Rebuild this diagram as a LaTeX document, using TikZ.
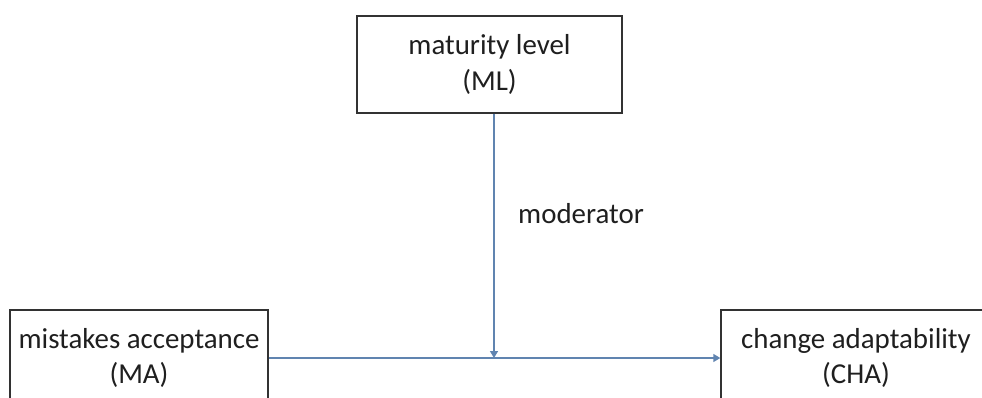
\documentclass[tikz,border=0pt]{standalone}
\usepackage{fontspec}
\setmainfont{Carlito}
\usetikzlibrary{arrows.meta}
\definecolor{linkblue}{RGB}{96,132,176}
\definecolor{boxgrey}{RGB}{50,50,50}
\tikzset{
  box/.style={draw=boxgrey, line width=1.4bp, fill=white, minimum width=258bp, minimum height=96bp,
    align=center, inner sep=0pt, text=black!88, font=\fontsize{29}{36}\selectfont},
  link/.style={draw=linkblue, line width=1.4bp, -{Triangle[width=8bp,length=7bp]}},
  lbl/.style={text=black!88, font=\fontsize{29}{36}\selectfont, inner sep=0pt}
}
\begin{document}
\begin{tikzpicture}[x=1bp,y=-1bp]
\useasboundingbox (0,0) rectangle (982,397);
\clip (0,0) rectangle (982,397);
\fill[white] (0,0) rectangle (982,397);
\node[box, minimum width=265bp, minimum height=97bp] (ml) at (489.5,64.5) {maturity level\\(ML)};
\node[box] (ma) at (139,358) {mistakes acceptance\\(MA)};
\node[box, minimum width=270bp] (cha) at (856,358) {change adaptability\\(CHA)};
\coordinate (join) at (494,358);
\draw[link] (ma.east) -- (cha.west);
\draw[link] (ml.south -| join) -- (join);
\node[lbl, anchor=base west] (mod) at (518,223) {moderator};
\end{tikzpicture}
\end{document}
